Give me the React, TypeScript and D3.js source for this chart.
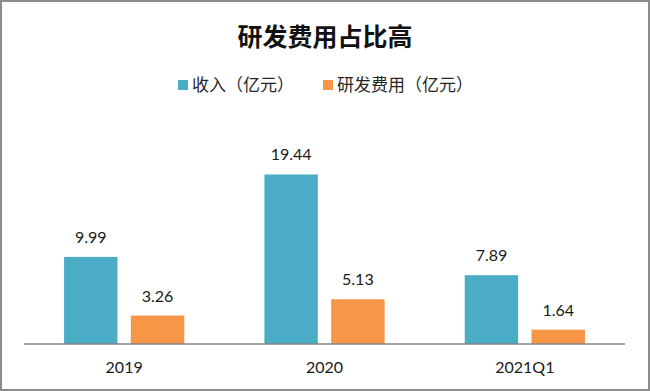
import React from "react";
import * as d3 from "d3";

const categories = ["2019", "2020", "2021Q1"];
const seriesNames = ["收入（亿元）", "研发费用（亿元）"];
const revenue = [9.99, 19.44, 7.89];
const rdCost = [3.26, 5.13, 1.64];
const colors = ["#4BACC6", "#F79646"];

const W = 650;
const H = 391;

export default function App() {
  const margin = { left: 24, right: 25, top: 126, bottom: 47 };
  const x = d3
    .scaleBand<string>()
    .domain(categories)
    .range([margin.left, W - margin.right])
    .paddingInner(0.4)
    .paddingOuter(0.2);
  const inner = d3
    .scaleBand<number>()
    .domain([0, 1])
    .range([0, x.bandwidth()])
    .paddingInner(0.2);
  const y = d3.scaleLinear().domain([0, 25]).range([H - margin.bottom, margin.top]);
  const series = [revenue, rdCost];

  const latin = "Lato, 'Open Sans', sans-serif";
  const cjk = "'Noto Sans CJK SC', sans-serif";

  // legend layout
  const legendX = [178, 323];

  return (
    <svg
      width={W}
      height={H}
      style={{ position: "absolute", left: 0, top: 0, background: "#fff" }}
    >
      <rect x={1} y={1} width={W - 2} height={H - 2} fill="#fff" stroke="#8c8c8c" strokeWidth={2} />
      <text
        x={W / 2}
        y={46}
        textAnchor="middle"
        fontFamily={cjk}
        fontWeight="bold"
        fontSize={25}
        fill="#111"
      >
        研发费用占比高
      </text>
      {seriesNames.map((name, i) => (
        <g key={name} transform={`translate(${legendX[i]},85)`}>
          <rect x={0} y={-5} width={10} height={10} fill={colors[i]} />
          <text x={14} y={6} fontFamily={cjk} fontSize={17} fill="#262626">
            {name}
          </text>
        </g>
      ))}
      {categories.map((c, ci) => (
        <g key={c}>
          {series.map((s, si) => {
            const bx = (x(c) ?? 0) + (inner(si) ?? 0);
            const top = y(s[ci]);
            return (
              <g key={si}>
                <rect
                  x={bx}
                  y={top}
                  width={inner.bandwidth()}
                  height={y(0) - top}
                  fill={colors[si]}
                />
                <text
                  x={bx + inner.bandwidth() / 2}
                  y={top - 14}
                  textAnchor="middle"
                  fontFamily={latin}
                  fontSize={16}
                  fill="#1a1a1a"
                >
                  {s[ci].toFixed(2)}
                </text>
              </g>
            );
          })}
          <text
            x={(x(c) ?? 0) + x.bandwidth() / 2}
            y={373}
            textAnchor="middle"
            fontFamily={latin}
            fontSize={16}
            fill="#1a1a1a"
          >
            {c}
          </text>
        </g>
      ))}
      <line
        x1={margin.left}
        x2={W - margin.right}
        y1={y(0)}
        y2={y(0)}
        stroke="#868686"
        strokeWidth={1.5}
      />
    </svg>
  );
}
